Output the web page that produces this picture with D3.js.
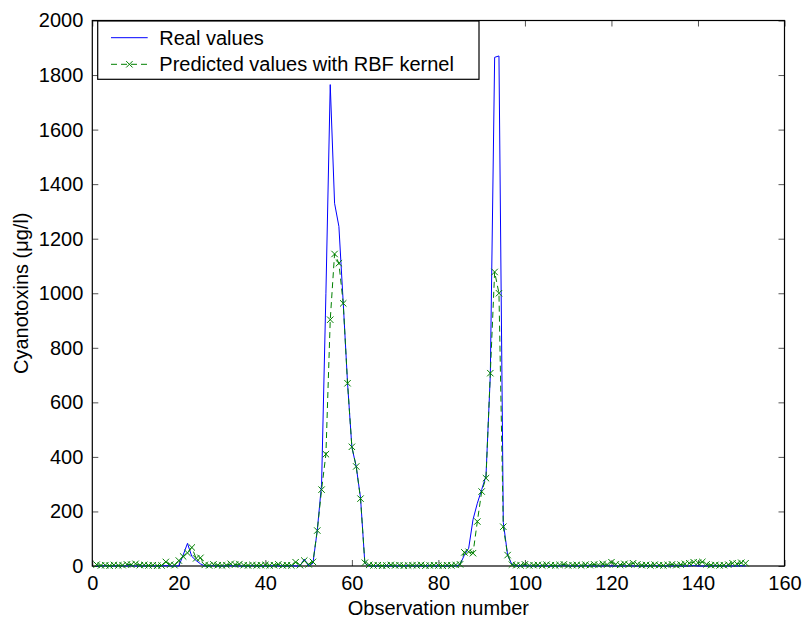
<!DOCTYPE html>
<html>
<head>
<meta charset="utf-8">
<script src="https://cdn.jsdelivr.net/npm/d3@7"></script>
<style>
  body { margin: 0; background: #fff; }
  text { font-family: "Liberation Sans", Arial, Helvetica, sans-serif; }
</style>
</head>
<body>
<div id="my_dataviz"></div>
<script>
// observations 1..151
const observations = d3.range(1, 152);

// real cyanotoxin values (blue line)
const realValues = [
  0, 0, 1, 0, 0, 1, 0, 0, 1, 0, 0, 0, 1, 0, 0, 0, 1, 0, 0, 0,          // 1-20
  40, 83, 35, 20, 8, 0, 0, 1, 0, 0, 0, 1, 0, 0, 0, 0, 1, 0, 0, 0,      // 21-40
  0, 1, 0, 0, 0, 1, 0, 0, 25, 0, 10, 130, 300, 1000, 1765, 1330, 1245, 965, 670, 435, // 41-60
  365, 250, 10, 0, 0, 0, 1, 0, 0, 0, 0, 0, 1, 0, 0, 0, 0, 1, 0, 0,     // 61-80
  0, 0, 1, 0, 5, 40, 65, 170, 230, 280, 330, 700, 1865, 1870, 160, 40, 5, 0, 0, 1, // 81-100
  0, 0, 0, 1, 0, 0, 0, 0, 1, 0, 0, 0, 0, 1, 0, 0, 0, 0, 1, 0,          // 101-120
  0, 0, 0, 1, 0, 0, 0, 0, 0, 1, 0, 0, 0, 0, 1, 0, 0, 0, 2, 0,          // 121-140
  0, 0, 0, 1, 0, 0, 0, 0, 0, 1, 0                                      // 141-151
];

// predicted values with RBF kernel (green dashed line, x markers)
const predictedValues = [
  5, 2, 3, 1, 4, 2, 3, 6, 5, 8, 3, 4, 2, 3, 1, 2, 15, 5, 3, 20,        // 1-20
  35, 48, 68, 28, 30, 4, 2, 6, 3, 2, 3, 8, 5, 7, 3, 2, 4, 2, 3, 4,     // 21-40
  2, 3, 6, 2, 3, 2, 14, 3, 20, 6, 15, 130, 280, 410, 903, 1144, 1110, 963, 670, 437, // 41-60
  365, 247, 12, 4, 2, 3, 1, 2, 4, 2, 3, 1, 2, 3, 2, 4, 1, 2, 3, 2,     // 61-80
  1, 3, 2, 4, 6, 50, 52, 47, 163, 273, 322, 707, 1078, 1000, 144, 40, 5, 3, 2, 6, // 81-100
  2, 3, 4, 2, 5, 3, 2, 4, 6, 2, 3, 4, 2, 5, 3, 6, 4, 8, 5, 14,         // 101-120
  6, 4, 8, 5, 10, 6, 3, 4, 2, 5, 3, 2, 4, 6, 3, 5, 8, 10, 14, 12,      // 121-140
  15, 6, 3, 4, 2, 3, 5, 10, 8, 12, 10                                  // 141-151
];

const xTicks = [0, 20, 40, 60, 80, 100, 120, 140, 160];
const yTicks = [0, 200, 400, 600, 800, 1000, 1200, 1400, 1600, 1800, 2000];

// set the dimensions and margins of the graph
const W = 802, H = 624;
const margin = { top: 20.5, right: 17.5, bottom: 58, left: 92.3 },
    width = W - margin.left - margin.right,
    height = H - margin.top - margin.bottom;

const svg = d3.select("#my_dataviz")
    .append("svg")
    .attr("width", W)
    .attr("height", H)
    .append("g")
    .attr("transform", `translate(${margin.left}, ${margin.top})`);

const x = d3.scaleLinear().domain([0, 160]).range([0, width]);
const y = d3.scaleLinear().domain([0, 2000]).range([height, 0]);

const fontSize = 20;
const tickLen = 6;

// ticks (inside, on all four sides like matlab)
const axB = d3.axisBottom(x).tickValues(xTicks).tickFormat(d3.format("d")).tickSizeInner(-tickLen).tickSizeOuter(0).tickPadding(10);
const axT = d3.axisTop(x).tickValues(xTicks).tickSizeInner(-tickLen).tickSizeOuter(0).tickFormat("");
const axL = d3.axisLeft(y).tickValues(yTicks).tickFormat(d3.format("d")).tickSizeInner(-tickLen).tickSizeOuter(0).tickPadding(9);
const axR = d3.axisRight(y).tickValues(yTicks).tickSizeInner(-tickLen).tickSizeOuter(0).tickFormat("");

const gB = svg.append("g").attr("transform", `translate(0, ${height})`).call(axB);
const gT = svg.append("g").call(axT);
const gL = svg.append("g").call(axL);
const gR = svg.append("g").attr("transform", `translate(${width}, 0)`).call(axR);

[gB, gT, gL, gR].forEach(g => {
  g.select(".domain").remove();
  g.selectAll(".tick line").attr("stroke", "#555").attr("stroke-width", 1);
  g.selectAll("text").attr("fill", "#000").style("font-size", fontSize + "px")
    .style("font-family", '"Liberation Sans", Arial, sans-serif');
});
gB.selectAll("text").attr("dy", "0.71em");

// frame
svg.append("rect")
    .attr("x", 0).attr("y", 0)
    .attr("width", width).attr("height", height)
    .attr("fill", "none")
    .attr("stroke", "#000")
    .attr("stroke-width", 1.2);

// lines
const valueLine = d3.line()
    .x((d, i) => x(observations[i]))
    .y(d => y(d));

svg.append("path")
    .datum(realValues)
    .attr("fill", "none")
    .attr("stroke", "#0000ff")
    .attr("stroke-width", 1)
    .attr("d", valueLine);

svg.append("path")
    .datum(predictedValues)
    .attr("fill", "none")
    .attr("stroke", "#008000")
    .attr("stroke-width", 1)
    .attr("stroke-dasharray", "6,4")
    .attr("d", valueLine);

const ms = 3.2;
function crossPath(cx, cy) {
  return `M${cx - ms},${cy - ms}L${cx + ms},${cy + ms}M${cx - ms},${cy + ms}L${cx + ms},${cy - ms}`;
}

svg.append("g")
    .selectAll("path")
    .data(predictedValues)
    .join("path")
    .attr("d", (d, i) => crossPath(x(observations[i]), y(d)))
    .attr("stroke", "#008000")
    .attr("stroke-width", 1)
    .attr("fill", "none");

// axis labels
svg.append("text")
    .attr("x", width / 2)
    .attr("y", height + 49)
    .attr("text-anchor", "middle")
    .style("font-size", fontSize + "px")
    .text("Observation number");

svg.append("text")
    .attr("transform", `translate(${-margin.left + 28}, ${height / 2}) rotate(-90)`)
    .attr("text-anchor", "middle")
    .style("font-size", fontSize + "px")
    .text("Cyanotoxins (μg/l)");

// legend
const lg = svg.append("g").attr("transform", `translate(${97.7 - margin.left}, ${21 - margin.top})`);
lg.append("rect")
    .attr("width", 381.3).attr("height", 58.3)
    .attr("fill", "#fff").attr("stroke", "#000").attr("stroke-width", 1.2);

lg.append("line")
    .attr("x1", 13.3).attr("x2", 50).attr("y1", 16.7).attr("y2", 16.7)
    .attr("stroke", "#0000ff").attr("stroke-width", 1);
lg.append("text")
    .attr("x", 61.6).attr("y", 16.7).attr("dy", "0.35em")
    .style("font-size", fontSize + "px")
    .text("Real values");

lg.append("line")
    .attr("x1", 13.3).attr("x2", 50).attr("y1", 43.3).attr("y2", 43.3)
    .attr("stroke", "#008000").attr("stroke-width", 1).attr("stroke-dasharray", "6,4");
lg.append("path")
    .attr("d", crossPath(31.7, 43.3))
    .attr("stroke", "#008000").attr("stroke-width", 1).attr("fill", "none");
lg.append("text")
    .attr("x", 61.6).attr("y", 43.3).attr("dy", "0.35em")
    .style("font-size", fontSize + "px")
    .text("Predicted values with RBF kernel");
</script>
</body>
</html>
